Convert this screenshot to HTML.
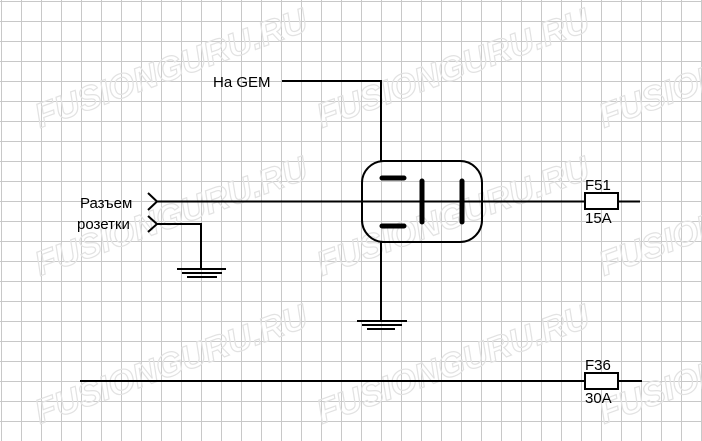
<!DOCTYPE html>
<html><head><meta charset="utf-8"><style>
html,body{margin:0;padding:0;background:#fff;}
body{width:702px;height:441px;overflow:hidden;}
svg{display:block;}
</style></head><body>
<svg width="702" height="441" xmlns="http://www.w3.org/2000/svg">
<defs>
<pattern id="g" x="1" y="1" width="20" height="20" patternUnits="userSpaceOnUse">
<path d="M0 0.5H20M0.5 0V20" stroke="#c8c8c8" stroke-width="1" fill="none"/>
</pattern>
</defs>
<rect width="702" height="441" fill="#fff"/>
<rect width="702" height="441" fill="url(#g)"/>
<g font-family="Liberation Sans, sans-serif" font-weight="bold" font-style="italic" font-size="34" fill="none" stroke="#e2e2e2" stroke-width="1.2">
<text transform="translate(40,128) rotate(-20)">FUSIONGURU.RU</text>
<text transform="translate(322,128) rotate(-20)">FUSIONGURU.RU</text>
<text transform="translate(604,128) rotate(-20)">FUSION</text>
<text transform="translate(40,276) rotate(-20)">FUSIONGURU.RU</text>
<text transform="translate(322,276) rotate(-20)">FUSIONGURU.RU</text>
<text transform="translate(604,276) rotate(-20)">FUSION</text>
<text transform="translate(40,424) rotate(-20)">FUSIONGURU.RU</text>
<text transform="translate(322,424) rotate(-20)">FUSIONGURU.RU</text>
<text transform="translate(604,424) rotate(-20)">FUSION</text>
</g>
<g stroke="#000" stroke-width="2" fill="none">
<path d="M157 201.5H640"/>
<path d="M148 193L157 201.5L148 210"/>
<path d="M148 216L157 224L148 232"/>
<path d="M157 224H201V269"/>
<path d="M177 269H226M182 273H222M187 277H217"/>
<path d="M282 81H381V161"/>
<rect x="362" y="161" width="120" height="81" rx="22"/>
<path d="M381 242V321"/>
<path d="M357 321H407M362 325H402M367 329H395"/>
<path d="M80 381H642"/>
<rect x="585" y="193" width="33" height="16" fill="#fff"/>
<rect x="585" y="373" width="33" height="16" fill="#fff"/>
</g>
<g stroke="#000" stroke-width="5" stroke-linecap="round">
<path d="M382 178H404M382 226H404M422 181V222M462 181V222"/>
</g>
<g font-family="Liberation Sans, sans-serif" font-size="15" fill="#000">
<text x="213" y="87">На GEM</text>
<text x="80" y="208">Разъем</text>
<text x="77" y="229">розетки</text>
<text x="585" y="190">F51</text>
<text x="585" y="223">15A</text>
<text x="585" y="370">F36</text>
<text x="585" y="403">30A</text>
</g>
</svg>
</body></html>
